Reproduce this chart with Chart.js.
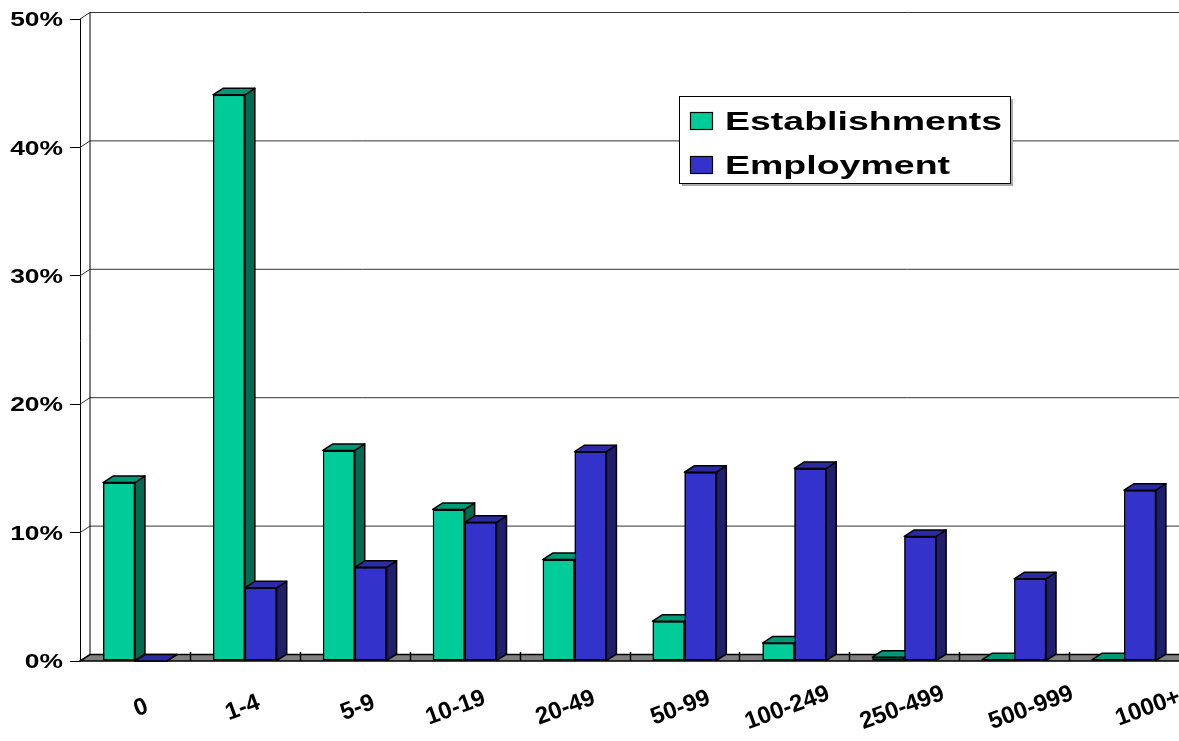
<!DOCTYPE html>
<html lang="en">
<head>
<meta charset="UTF-8">
<title>Establishments and Employment by Size Class</title>
<script src="https://cdn.jsdelivr.net/npm/chart.js"></script>
<style>
  html, body { margin: 0; padding: 0; background: #fff; }
  #wrap { width: 1179px; height: 741px; position: relative; }
</style>
</head>
<body>
<div id="wrap"><canvas id="sizeChart"></canvas></div>
<script>
// size classes (number of employees)
const categories = ["0", "1-4", "5-9", "10-19", "20-49", "50-99", "100-249", "250-499", "500-999", "1000+"];
// share of establishments, %
const establishments = [13.9, 44.1, 16.4, 11.8, 7.9, 3.1, 1.4, 0.3, 0.1, 0.1];
// share of employment, %
const employment = [0, 5.7, 7.3, 10.8, 16.3, 14.7, 15.0, 9.7, 6.4, 13.3];
const yTicks = [0, 10, 20, 30, 40, 50];
const seriesNames = ["Establishments", "Employment"];

// 3d depth offset
const DX = 10, DY = 6.5;
const FONT = '"Liberation Sans", Arial, sans-serif';
const shades = [
    { front: "#00CC99", side: "#006B50", top: "#009977" },
    { front: "#3333CC", side: "#1F1F6E", top: "#2B2BA6" }
];
// the tilted labels in the original sit a bit unevenly
const labelShift = [6, -2, 3, -9, -9, -4, -7, -2, 17, 24];

function stretchText(ctx, text, x, y, size, sx, align, baseline, angle) {
    ctx.save();
    ctx.translate(x, y);
    if (angle) ctx.rotate(angle);
    ctx.scale(sx, 1);
    ctx.font = "bold " + size + "px " + FONT;
    ctx.textAlign = align;
    ctx.textBaseline = baseline;
    ctx.fillStyle = "#000";
    ctx.fillText(text, 0, 0);
    ctx.restore();
}

function poly(ctx, pts, fill) {
    ctx.beginPath();
    ctx.moveTo(pts[0][0], pts[0][1]);
    for (let i = 1; i < pts.length; i++) ctx.lineTo(pts[i][0], pts[i][1]);
    ctx.closePath();
    if (fill) { ctx.fillStyle = fill; ctx.fill(); }
    ctx.stroke();
}

const box3d = {
    id: "box3d",
    // back wall, gridlines and floor
    beforeDatasetsDraw(chart) {
        const ctx = chart.ctx;
        const area = chart.chartArea;
        const y = chart.scales.y, x = chart.scales.x;
        const y0 = y.getPixelForValue(0);
        ctx.save();
        ctx.lineWidth = 1;
        ctx.strokeStyle = "#333";
        yTicks.forEach(v => {
            const py = y.getPixelForValue(v);
            ctx.beginPath();
            ctx.moveTo(area.left + DX, py - DY);
            ctx.lineTo(area.right + 20, py - DY);
            ctx.stroke();
            ctx.beginPath();
            ctx.moveTo(area.left, py);
            ctx.lineTo(area.left + DX, py - DY);
            ctx.stroke();
        });
        ctx.strokeStyle = "#000";
        ctx.beginPath();
        ctx.moveTo(area.left + DX, y.getPixelForValue(50) - DY);
        ctx.lineTo(area.left + DX, y0 - DY);
        ctx.stroke();
        // floor
        ctx.lineWidth = 1.5;
        poly(ctx, [[area.left, y0], [area.right + 20, y0], [area.right + 20 + DX, y0 - DY], [area.left + DX, y0 - DY]], "#808080");
        // tick marks between categories
        const step = x.getPixelForValue(1) - x.getPixelForValue(0);
        for (let i = 1; i < categories.length; i++) {
            const px = Math.round(x.getPixelForValue(i) - step / 2) + 0.5;
            ctx.beginPath();
            ctx.moveTo(px, y0 - 9);
            ctx.lineTo(px, y0);
            ctx.stroke();
        }
        ctx.restore();
    },
    // repaint series in index order: front, side, top, so the
    // employment bar hides the establishments side face
    afterDatasetsDraw(chart) {
        const ctx = chart.ctx;
        [0, 1].forEach(di => {
            const meta = chart.getDatasetMeta(di);
            const c = shades[di];
            meta.data.forEach(bar => {
                bar.draw(ctx);
                const p = bar.getProps(["x", "y", "base", "width"], true);
                const l = p.x - p.width / 2, r = p.x + p.width / 2;
                ctx.save();
                ctx.lineWidth = 1.5;
                ctx.strokeStyle = "#000";
                ctx.lineJoin = "round";
                poly(ctx, [[r, p.y], [r + DX, p.y - DY], [r + DX, p.base - DY], [r, p.base]], c.side);
                poly(ctx, [[l, p.y], [l + DX, p.y - DY], [r + DX, p.y - DY], [r, p.y]], c.top);
                ctx.restore();
            });
        });
    },
    afterDraw(chart) {
        const ctx = chart.ctx;
        const y = chart.scales.y, x = chart.scales.x;
        // y labels
        yTicks.forEach(v => {
            stretchText(ctx, v + "%", 63, y.getPixelForValue(v) + 7.2, 20, 1.32, "right", "alphabetic");
        });
        // x labels, tilted
        categories.forEach((lab, i) => {
            stretchText(ctx, lab, x.getPixelForValue(i) + labelShift[i], 708, 24, 1.0, "center", "middle", -20 * Math.PI / 180);
        });
        // legend
        ctx.save();
        ctx.fillStyle = "#aaa";
        ctx.fillRect(682, 99, 331, 87);
        ctx.fillStyle = "#fff";
        ctx.fillRect(679, 96, 331, 87);
        ctx.strokeStyle = "#000";
        ctx.lineWidth = 1;
        ctx.strokeRect(679.5, 96.5, 331, 87);
        ctx.lineWidth = 1.2;
        ctx.fillStyle = shades[0].front;
        ctx.fillRect(690.5, 112.5, 22, 17);
        ctx.strokeRect(690.5, 112.5, 22, 17);
        ctx.fillStyle = shades[1].front;
        ctx.fillRect(690.5, 156.5, 22, 17);
        ctx.strokeRect(690.5, 156.5, 22, 17);
        ctx.restore();
        stretchText(ctx, seriesNames[0], 725, 130, 25, 1.5, "left", "alphabetic");
        stretchText(ctx, seriesNames[1], 725, 174, 25, 1.5, "left", "alphabetic");
    }
};

const ctx = document.getElementById("sizeChart").getContext("2d");
const sizeChart = new Chart(ctx, {
    type: "bar",
    data: {
        labels: categories,
        datasets: [
            {
                label: seriesNames[0],
                data: establishments,
                backgroundColor: shades[0].front,
                borderColor: "#000",
                borderWidth: 1.5,
                borderSkipped: false
            },
            {
                label: seriesNames[1],
                data: employment,
                backgroundColor: shades[1].front,
                borderColor: "#000",
                borderWidth: 1.5,
                borderSkipped: false
            }
        ]
    },
    options: {
        responsive: true,
        maintainAspectRatio: false,
        animation: false,
        datasets: { bar: { categoryPercentage: 0.58, barPercentage: 1 } },
        layout: { padding: { top: 19, right: 0, left: 0, bottom: 0 } },
        plugins: { legend: { display: false }, tooltip: { enabled: false } },
        scales: {
            x: {
                grid: { display: false },
                border: { display: false },
                ticks: { display: false },
                afterFit(scale) { scale.height = 80; }
            },
            y: {
                min: 0,
                max: 50,
                ticks: { stepSize: 10, display: false },
                grid: { drawOnChartArea: false, drawTicks: true, tickLength: 10, color: "#000" },
                border: { display: true, color: "#000", width: 1 },
                afterFit(scale) { scale.width = 80; }
            }
        }
    },
    plugins: [box3d]
});
</script>
</body>
</html>
